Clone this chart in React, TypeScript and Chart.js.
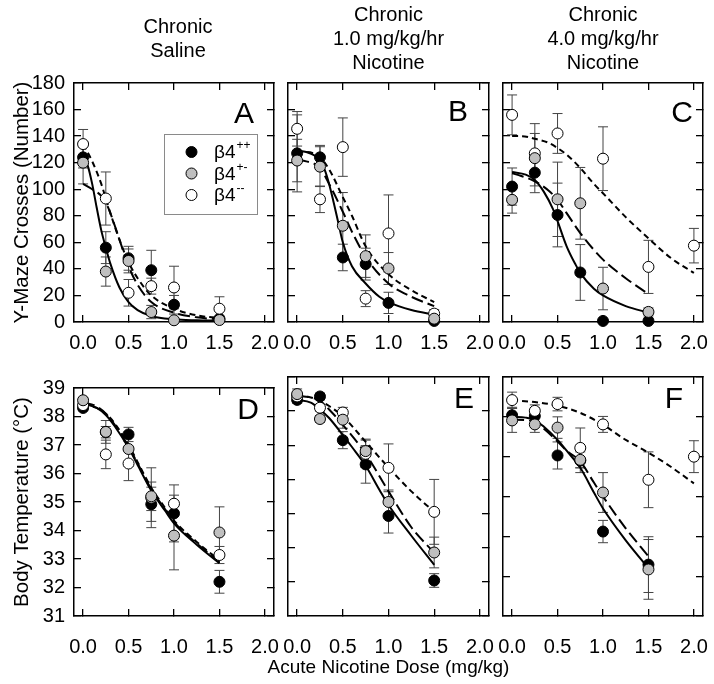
import React, { useEffect, useRef } from 'react';
import { Chart, registerables } from 'chart.js';

Chart.register(...registerables);

const FONT = "'Liberation Sans', Arial, Helvetica, sans-serif";

// ---------------- Data ----------------
const doses = [0, 0.25, 0.5, 0.75, 1.0, 1.5];
const dosesKoC = [0, 0.25, 0.5, 1.0, 1.5, 2.0];
const dosesKoF = [0, 0.25, 0.5, 0.75, 1.0, 1.5, 2.0];

const xTickValues = [0, 0.5, 1.0, 1.5, 2.0];
const crossesTicks = [0, 20, 40, 60, 80, 100, 120, 140, 160, 180];
const tempTicksD = [31, 32, 33, 34, 35, 36, 37, 38, 39];
const tempTicksE = [32, 33, 34, 35, 36, 37, 38, 39];
const tempTicksF = [33, 34, 35, 36, 37, 38, 39];

const genotypeBase = 'β4';
const genotypeSup = ['++', '+-', '--'];

const titleSaline = ['Chronic', 'Saline'];
const titleNic1 = ['Chronic', '1.0 mg/kg/hr', 'Nicotine'];
const titleNic4 = ['Chronic', '4.0 mg/kg/hr', 'Nicotine'];
const yTitleCrosses = 'Y-Maze Crosses (Number)';
const yTitleTemp = 'Body Temperature (°C)';
const xTitleDose = 'Acute Nicotine Dose (mg/kg)';

// Panel A: Y-maze, chronic saline
const aWT = [124, 56, 48, 39, 13, 2.5];
const aWTe = [8, 12, 9, 15, 7, 1];
const aHET = [120, 38, 46, 7.5, 1.3, 1.5];
const aHETe = [16, 11, 9, 5, 1, 1];
const aKO = [134, 93, 22, 27, 26, 10];
const aKOe = [11, 20, 10, 6, 16, 9];
const fitA_wt_x = [0, 0.05, 0.1, 0.15, 0.2, 0.25, 0.3, 0.4, 0.5, 0.6, 0.75, 1.0, 1.25, 1.5];
const fitA_wt_y = [124, 118, 104, 86, 69, 56, 44, 26, 15, 9, 4.5, 2, 1.3, 1];
const fitA_het_x = [0, 0.1, 0.2, 0.25, 0.3, 0.4, 0.5, 0.6, 0.75, 1.0, 1.25, 1.5];
const fitA_het_y = [104, 100, 95, 90, 82, 62, 42, 28, 15, 7, 3.5, 2];
const fitA_ko_x = [0, 0.1, 0.2, 0.25, 0.3, 0.4, 0.5, 0.6, 0.75, 1.0, 1.25, 1.5];
const fitA_ko_y = [134, 121, 104, 93, 82, 62, 45, 33, 20, 10, 5, 3];

// Panel B: Y-maze, chronic 1.0 mg/kg/hr
const bWT = [127, 124, 48.6, 43.6, 14.4, 0.8];
const bWTe = [29, 9, 10, 12, 8, 1];
const bHET = [121.6, 117, 72.5, 49.6, 40.3, 2.5];
const bHETe = [16, 15, 25, 16, 12, 2];
const bKO = [145.5, 92.4, 131.7, 17.6, 66.7, 6.3];
const bKOe = [13, 10, 22, 6, 29, 3];
const fitB_wt_x = [0, 0.1, 0.2, 0.25, 0.3, 0.35, 0.4, 0.45, 0.5, 0.6, 0.75, 0.9, 1.0, 1.25, 1.5];
const fitB_wt_y = [129, 128, 125, 122, 115, 104, 90, 75, 60, 42, 29, 19, 15, 9, 5.5];
const fitB_het_x = [0, 0.1, 0.25, 0.35, 0.5, 0.6, 0.75, 1.0, 1.25, 1.5];
const fitB_het_y = [122, 121, 116, 104, 83, 68, 49, 29, 19, 12];
const fitB_ko_x = [0, 0.1, 0.25, 0.35, 0.5, 0.6, 0.75, 1.0, 1.25, 1.5];
const fitB_ko_y = [128, 128, 124, 115, 94, 80, 57, 36, 24, 15];

// Panel C: Y-maze, chronic 4.0 mg/kg/hr
const cWT = [102, 112.5, 80.6, 37.3, 0.8, 0.8];
const cWTe = [14, 10, 24, 21, 0, 0];
const cHET = [92, 123.4, 92.4, 89.4, 25.2, 7.6];
const cHETe = [10, 26, 28, 27, 16, 3];
const cKO = [156, 127, 142, 123, 41.5, 57.5];
const cKOe = [15, 15, 15, 24, 20, 13];
const fitC_wt_x = [0, 0.15, 0.25, 0.35, 0.45, 0.5, 0.6, 0.7, 0.75, 0.9, 1.0, 1.25, 1.5];
const fitC_wt_y = [113, 111, 107, 98, 85, 76, 57, 43, 37, 25, 20, 12, 7];
const fitC_het_x = [0, 0.1, 0.25, 0.4, 0.5, 0.6, 0.75, 1.0, 1.25, 1.5];
const fitC_het_y = [112, 110, 106, 99, 92, 82, 67, 47, 33, 21];
const fitC_ko_x = [0, 0.1, 0.25, 0.4, 0.5, 0.6, 0.75, 0.9, 1.0, 1.25, 1.5, 1.75, 2.0];
const fitC_ko_y = [140, 140, 138, 135, 131, 126, 116, 104, 97, 79, 63, 48, 37];

// Panel D: body temperature, chronic saline
const dWT = [38.3, 37.45, 37.37, 34.92, 34.6, 32.2];
const dWTe = [0.1, 0.2, 0.25, 0.6, 1.0, 0.4];
const dHET = [38.57, 37.46, 36.86, 35.2, 33.82, 33.93];
const dHETe = [0.1, 0.4, 0.6, 0.5, 1.2, 0.9];
const dKO = [38.4, 36.67, 36.35, 35.15, 34.94, 33.14];
const dKOe = [0.1, 0.5, 0.6, 1.05, 0.3, 0.3];
const fitD_x = [0, 0.15, 0.25, 0.35, 0.5, 0.6, 0.75, 0.9, 1.0, 1.25, 1.5];
const fitD_wt_y = [38.45, 38.3, 38.05, 37.65, 36.9, 36.3, 35.4, 34.7, 34.25, 33.5, 32.85];
const fitD_het_y = [38.5, 38.35, 38.1, 37.7, 36.95, 36.35, 35.45, 34.75, 34.3, 33.55, 32.9];
const fitD_ko_y = [38.4, 38.3, 38.1, 37.75, 37.0, 36.4, 35.5, 34.8, 34.35, 33.6, 32.95];

// Panel E: body temperature, chronic 1.0 mg/kg/hr
const eWT = [38.33, 38.43, 37.15, 36.44, 34.93, 33.04];
const eWTe = [0.1, 0.1, 0.25, 0.55, 0.5, 0.2];
const eHET = [38.5, 37.77, 37.75, 36.83, 35.34, 33.86];
const eHETe = [0.15, 0.1, 0.25, 0.35, 0.35, 0.45];
const eKO = [38.43, 38.1, 37.96, 36.75, 36.34, 35.05];
const eKOe = [0.1, 0.1, 0.15, 0.4, 0.7, 0.95];
const fitE_wt_x = [0, 0.15, 0.25, 0.35, 0.5, 0.6, 0.75, 0.9, 1.0, 1.25, 1.5];
const fitE_wt_y = [38.33, 38.25, 38.05, 37.8, 37.3, 36.95, 36.4, 35.7, 35.25, 34.35, 33.5];
const fitE_dash_x = [0, 0.15, 0.25, 0.35, 0.5, 0.75, 1.0, 1.25, 1.5];
const fitE_het_y = [38.45, 38.4, 38.3, 38.05, 37.6, 36.75, 35.65, 34.6, 33.85];
const fitE_ko_y = [38.45, 38.4, 38.3, 38.15, 37.85, 37.1, 36.35, 35.65, 35.05];

// Panel F: body temperature, chronic 4.0 mg/kg/hr
const fWT = [38.04, 38.02, 37.03, 36.9, 35.12, 34.29];
const fWTe = [0.2, 0.2, 0.34, 0.3, 0.28, 0.7];
const fHET = [37.91, 37.81, 37.73, 36.92, 36.1, 34.17];
const fHETe = [0.3, 0.2, 0.27, 0.2, 0.5, 0.75];
const fKO = [38.42, 38.15, 38.32, 37.22, 37.81, 36.42, 37.0];
const fKOe = [0.2, 0.15, 0.17, 0.5, 0.2, 0.7, 0.4];
const fitF_x = [0, 0.15, 0.25, 0.35, 0.5, 0.6, 0.75, 0.9, 1.0, 1.25, 1.5];
const fitF_wt_y = [38.0, 37.98, 37.92, 37.75, 37.42, 37.15, 36.72, 36.1, 35.7, 34.9, 34.2];
const fitF_het_y = [37.93, 37.92, 37.87, 37.7, 37.38, 37.15, 36.88, 36.35, 36.0, 35.2, 34.5];
const fitF_ko_x = [0, 0.25, 0.5, 0.75, 1.0, 1.25, 1.5, 1.75, 2.0];
const fitF_ko_y = [38.42, 38.37, 38.28, 38.1, 37.8, 37.42, 37.1, 36.74, 36.33];

// ---------------- Layout / style ----------------
type Series = { x: number[]; y: number[]; e: number[] };
type Fit = { x: number[]; y: number[] };
interface PanelSpec {
  letter: string;
  letterDx: number;
  letterDy: number;
  canvas: { left: number; top: number; width: number; height: number };
  padLR: number;
  yW: number;
  y2W: number;
  xH: number;
  padTop: number;
  title?: string[];
  titlePad?: { top: number; bottom: number };
  bottomTitle?: string;
  yMin: number;
  yMax: number;
  yTicks: number[];
  showYLabels: boolean;
  yTitle?: string;
  xPad: number;
  series: Series[];
  fits: Fit[];
  legend?: boolean;
}

const X_MIN = -0.1;
const X_MAX = 2.1;
const fills = ['#000000', '#bfbfbf', '#ffffff'];
const pointOrder = [3, 1, 2];
const fitDash = [[], [12, 5], [6, 4]];

const panels: PanelSpec[] = [
  {
    letter: 'A', letterDx: 20, letterDy: 32,
    canvas: { left: 0, top: 0, width: 356, height: 360 }, padLR: 0,
    yW: 74, y2W: 82, xH: 38, padTop: 0,
    title: titleSaline, titlePad: { top: 15, bottom: 20 },
    yMin: 0, yMax: 180, yTicks: crossesTicks, showYLabels: true, yTitle: yTitleCrosses, xPad: 16,
    series: [
      { x: doses, y: aWT, e: aWTe },
      { x: doses, y: aHET, e: aHETe },
      { x: doses, y: aKO, e: aKOe },
    ],
    fits: [
      { x: fitA_wt_x, y: fitA_wt_y },
      { x: fitA_het_x, y: fitA_het_y },
      { x: fitA_ko_x, y: fitA_ko_y },
    ],
    legend: true,
  },
  {
    letter: 'B', letterDx: 21, letterDy: 30,
    canvas: { left: 175, top: 0, width: 427, height: 360 }, padLR: 0,
    yW: 113, y2W: 113, xH: 38, padTop: 0,
    title: titleNic1, titlePad: { top: 3, bottom: 8 },
    yMin: 0, yMax: 180, yTicks: crossesTicks, showYLabels: false, xPad: 16,
    series: [
      { x: doses, y: bWT, e: bWTe },
      { x: doses, y: bHET, e: bHETe },
      { x: doses, y: bKO, e: bKOe },
    ],
    fits: [
      { x: fitB_wt_x, y: fitB_wt_y },
      { x: fitB_het_x, y: fitB_het_y },
      { x: fitB_ko_x, y: fitB_ko_y },
    ],
  },
  {
    letter: 'C', letterDx: 10, letterDy: 31,
    canvas: { left: 392, top: 0, width: 422, height: 360 }, padLR: 100,
    yW: 11, y2W: 11, xH: 38, padTop: 0,
    title: titleNic4, titlePad: { top: 3, bottom: 8 },
    yMin: 0, yMax: 180, yTicks: crossesTicks, showYLabels: false, xPad: 16,
    series: [
      { x: doses, y: cWT, e: cWTe },
      { x: doses, y: cHET, e: cHETe },
      { x: dosesKoC, y: cKO, e: cKOe },
    ],
    fits: [
      { x: fitC_wt_x, y: fitC_wt_y },
      { x: fitC_het_x, y: fitC_het_y },
      { x: fitC_ko_x, y: fitC_ko_y },
    ],
  },
  {
    letter: 'D', letterDx: 15, letterDy: 23,
    canvas: { left: 0, top: 360, width: 348, height: 324 }, padLR: 0,
    yW: 74, y2W: 74, xH: 68, padTop: 17,
    yMin: 31, yMax: 39, yTicks: tempTicksD, showYLabels: true, yTitle: yTitleTemp, xPad: 26,
    series: [
      { x: doses, y: dWT, e: dWTe },
      { x: doses, y: dHET, e: dHETe },
      { x: doses, y: dKO, e: dKOe },
    ],
    fits: [
      { x: fitD_x, y: fitD_wt_y },
      { x: fitD_x, y: fitD_het_y },
      { x: fitD_x, y: fitD_ko_y },
    ],
  },
  {
    letter: 'E', letterDx: 15, letterDy: 23,
    canvas: { left: 175, top: 360, width: 427, height: 324 }, padLR: 0,
    yW: 113, y2W: 113, xH: 40.6, padTop: 17,
    bottomTitle: xTitleDose,
    yMin: 32, yMax: 39, yTicks: tempTicksE, showYLabels: false, xPad: 26,
    series: [
      { x: doses, y: eWT, e: eWTe },
      { x: doses, y: eHET, e: eHETe },
      { x: doses, y: eKO, e: eKOe },
    ],
    fits: [
      { x: fitE_wt_x, y: fitE_wt_y },
      { x: fitE_dash_x, y: fitE_het_y },
      { x: fitE_dash_x, y: fitE_ko_y },
    ],
  },
  {
    letter: 'F', letterDx: 20, letterDy: 23,
    canvas: { left: 392, top: 360, width: 422, height: 324 }, padLR: 100,
    yW: 11, y2W: 11, xH: 68, padTop: 17,
    yMin: 33, yMax: 39, yTicks: tempTicksF, showYLabels: false, xPad: 26,
    series: [
      { x: doses, y: fWT, e: fWTe },
      { x: doses, y: fHET, e: fHETe },
      { x: dosesKoF, y: fKO, e: fKOe },
    ],
    fits: [
      { x: fitF_x, y: fitF_wt_y },
      { x: fitF_x, y: fitF_het_y },
      { x: fitF_ko_x, y: fitF_ko_y },
    ],
  },
];

// ---------------- Plugins ----------------
const errorBarPlugin = {
  id: 'errorBars',
  beforeDatasetsDraw(chart: any) {
    const { ctx } = chart;
    const yScale = chart.scales.y;
    ctx.save();
    ctx.strokeStyle = '#444444';
    ctx.lineWidth = 1;
    chart.data.datasets.forEach((ds: any, i: number) => {
      if (!ds.errors) return;
      const meta = chart.getDatasetMeta(i);
      meta.data.forEach((pt: any, j: number) => {
        const err = ds.errors[j];
        if (!err) return;
        const v = ds.data[j].y;
        const x = pt.x;
        const yTop = yScale.getPixelForValue(Math.min(v + err, yScale.max));
        const yBot = yScale.getPixelForValue(Math.max(v - err, yScale.min));
        ctx.beginPath();
        ctx.moveTo(x, yTop);
        ctx.lineTo(x, yBot);
        ctx.moveTo(x - 5, yTop);
        ctx.lineTo(x + 5, yTop);
        ctx.moveTo(x - 5, yBot);
        ctx.lineTo(x + 5, yBot);
        ctx.stroke();
      });
    });
    ctx.restore();
  },
};

function makeLetterPlugin(spec: PanelSpec) {
  return {
    id: 'panelLetter',
    afterDraw(chart: any) {
      const { ctx, chartArea } = chart;
      ctx.save();
      ctx.fillStyle = '#000';
      ctx.font = `30px ${FONT}`;
      ctx.textAlign = 'right';
      ctx.textBaseline = 'middle';
      ctx.fillText(spec.letter, chartArea.right - spec.letterDx, chartArea.top + spec.letterDy);
      ctx.restore();
    },
  };
}

function makeLegendPlugin(spec: PanelSpec) {
  return {
    id: 'genoLegend',
    afterDraw(chart: any) {
      if (!spec.legend) return;
      const { ctx, chartArea } = chart;
      const left = chartArea.left + 90;
      const top = chartArea.top + 51;
      const w = 93;
      const h = 80;
      ctx.save();
      ctx.fillStyle = '#ffffff';
      ctx.fillRect(left, top, w, h);
      ctx.strokeStyle = '#8a8a8a';
      ctx.lineWidth = 1;
      ctx.strokeRect(left + 0.5, top + 0.5, w, h);
      genotypeSup.forEach((sup, i) => {
        const y = top + 18 + i * 21.5;
        ctx.beginPath();
        ctx.arc(left + 27.5, y, 5.5, 0, Math.PI * 2);
        ctx.fillStyle = fills[i];
        ctx.fill();
        ctx.strokeStyle = '#000';
        ctx.lineWidth = 1;
        ctx.stroke();
        ctx.fillStyle = '#000';
        ctx.textAlign = 'left';
        ctx.textBaseline = 'middle';
        ctx.font = `19px ${FONT}`;
        ctx.fillText(genotypeBase, left + 50, y + 1);
        const bw = ctx.measureText(genotypeBase).width;
        ctx.font = `12px ${FONT}`;
        ctx.fillText(sup, left + 50 + bw + 1, y - 6);
      });
      ctx.restore();
    },
  };
}

// ---------------- Config ----------------
function buildConfig(spec: PanelSpec): any {
  const datasets: any[] = [];
  spec.fits.forEach((f, i) => {
    datasets.push({
      label: `fit ${genotypeBase}${genotypeSup[i]}`,
      data: f.x.map((x, j) => ({ x, y: f.y[j] })),
      xAxisID: 'x',
      yAxisID: 'y',
      borderColor: '#000',
      borderWidth: 2,
      borderDash: fitDash[i],
      pointRadius: 0,
      pointHoverRadius: 0,
      showLine: true,
      fill: false,
      cubicInterpolationMode: 'monotone',
      order: 10,
      clip: false,
    });
  });
  spec.series.forEach((s, i) => {
    datasets.push({
      label: genotypeBase + genotypeSup[i],
      data: s.x.map((x, j) => ({ x, y: s.y[j] })),
      errors: s.e,
      xAxisID: 'x',
      yAxisID: 'y',
      showLine: false,
      borderColor: '#000',
      pointRadius: 5.5,
      pointHoverRadius: 5.5,
      pointBackgroundColor: fills[i],
      pointBorderColor: '#000',
      pointBorderWidth: 1,
      order: pointOrder[i],
      clip: false,
    });
  });

  const axisFont = { family: FONT, size: 20 };
  const grid = {
    drawOnChartArea: false,
    drawTicks: true,
    tickLength: -7,
    color: '#000',
    tickColor: '#000',
    tickWidth: 1.3,
    lineWidth: 1.3,
  };
  const border = { display: true, color: '#000', width: 1.5 };
  const setXTicks = (s: any) => {
    s.ticks = xTickValues.map((v) => ({ value: v }));
  };
  const setYTicks = (s: any) => {
    s.ticks = spec.yTicks.map((v) => ({ value: v }));
  };

  let titleOpts: any = { display: false };
  if (spec.title) {
    titleOpts = {
      display: true,
      position: 'top',
      text: spec.title,
      color: '#000',
      font: { family: FONT, size: 20, weight: 'normal', lineHeight: 1.2 },
      padding: spec.titlePad,
    };
  } else if (spec.bottomTitle) {
    titleOpts = {
      display: true,
      position: 'bottom',
      text: spec.bottomTitle,
      color: '#000',
      font: { family: FONT, size: 19, weight: 'normal', lineHeight: 1.2 },
      padding: { top: 0, bottom: 4.6 },
    };
  }

  return {
    type: 'line',
    data: { datasets },
    options: {
      responsive: false,
      maintainAspectRatio: false,
      animation: false,
      events: [],
      layout: { padding: { top: spec.padTop, left: spec.padLR, right: spec.padLR, bottom: 0 } },
      plugins: {
        legend: { display: false },
        tooltip: { enabled: false },
        title: titleOpts,
      },
      scales: {
        x: {
          type: 'linear',
          position: 'bottom',
          min: X_MIN,
          max: X_MAX,
          afterBuildTicks: setXTicks,
          ticks: {
            display: true,
            autoSkip: false,
            maxRotation: 0,
            padding: spec.xPad,
            color: '#000',
            font: axisFont,
            callback: (v: any) => Number(v).toFixed(1),
          },
          grid,
          border,
          afterFit: (s: any) => {
            s.height = spec.xH;
          },
        },
        x2: {
          type: 'linear',
          position: 'top',
          min: X_MIN,
          max: X_MAX,
          afterBuildTicks: setXTicks,
          ticks: { display: false, autoSkip: false },
          grid,
          border,
          afterFit: (s: any) => {
            s.height = 0;
          },
        },
        y: {
          type: 'linear',
          position: 'left',
          min: spec.yMin,
          max: spec.yMax,
          afterBuildTicks: setYTicks,
          ticks: {
            display: spec.showYLabels,
            autoSkip: false,
            padding: 16,
            color: '#000',
            font: axisFont,
            callback: (v: any) => String(v),
          },
          grid,
          border,
          title: spec.yTitle
            ? {
                display: true,
                text: spec.yTitle,
                color: '#000',
                font: { family: FONT, size: 20.5 },
                padding: { top: 10, bottom: 0 },
              }
            : { display: false },
          afterFit: (s: any) => {
            s.width = spec.yW;
          },
        },
        y2: {
          type: 'linear',
          position: 'right',
          min: spec.yMin,
          max: spec.yMax,
          afterBuildTicks: setYTicks,
          ticks: { display: false, autoSkip: false },
          grid,
          border,
          afterFit: (s: any) => {
            s.width = spec.y2W;
          },
        },
      },
    },
    plugins: [errorBarPlugin, makeLegendPlugin(spec), makeLetterPlugin(spec)],
  };
}

function Panel({ spec }: { spec: PanelSpec }) {
  const ref = useRef<HTMLCanvasElement | null>(null);
  useEffect(() => {
    if (!ref.current) return;
    const chart = new Chart(ref.current, buildConfig(spec));
    return () => chart.destroy();
  }, [spec]);
  const c = spec.canvas;
  return (
    <canvas
      ref={ref}
      width={c.width}
      height={c.height}
      style={{ position: 'absolute', left: c.left, top: c.top, width: c.width, height: c.height }}
    />
  );
}

export default function App() {
  return (
    <div
      style={{
        position: 'absolute',
        left: 0,
        top: 0,
        width: 714,
        height: 684,
        background: '#ffffff',
        overflow: 'hidden',
      }}
    >
      {panels.map((p) => (
        <Panel key={p.letter} spec={p} />
      ))}
    </div>
  );
}
